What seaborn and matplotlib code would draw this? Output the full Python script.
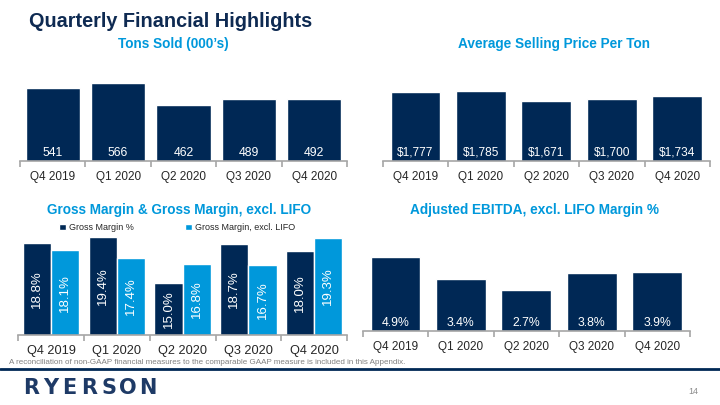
import numpy as np
import pandas as pd
import matplotlib
matplotlib.use("Agg")
import matplotlib.pyplot as plt
import seaborn as sns

# ---------------- data ----------------
quarters = ["Q4 2019", "Q1 2020", "Q2 2020", "Q3 2020", "Q4 2020"]
tons_sold = [541, 566, 462, 489, 492]
avg_price = [1777, 1785, 1671, 1700, 1734]
gross_margin = [18.8, 19.4, 15.0, 18.7, 18.0]
gross_margin_ex_lifo = [18.1, 17.4, 16.8, 16.7, 19.3]
ebitda_margin = [4.9, 3.4, 2.7, 3.8, 3.9]
series_names = ["Gross Margin %", "Gross Margin, excl. LIFO"]

NAVY = "#002855"
BLUE = "#0098DB"
TITLE_NAVY = "#0E2A52"
GRID_GREY = "#A6A6A6"
TXT = "#262626"

sns.set_theme(style="white")
plt.rcParams["font.family"] = ["Liberation Sans", "DejaVu Sans"]

W, H = 720, 405
fig = plt.figure(figsize=(7.2, 4.05), dpi=100)
fig.patch.set_facecolor("white")


def px_axes(x0, x1, y_base, y_top):
    return fig.add_axes([x0 / W, (H - y_base) / H, (x1 - x0) / W, (y_base - y_top) / H])


def style_axis(ax, ylim, tick_fs, pad):
    ax.set_ylim(*ylim)
    ax.set_xlim(-0.5, len(quarters) - 0.5)
    for s in ["top", "right", "left"]:
        ax.spines[s].set_visible(False)
    ax.spines["bottom"].set_color(GRID_GREY)
    ax.spines["bottom"].set_linewidth(1.2)
    ax.set_yticks([])
    ax.set_xticks(range(len(quarters)))
    ax.set_xticklabels(quarters)
    ax.set_xticks(np.arange(-0.5, len(quarters), 1.0), minor=True)
    ax.tick_params(axis="x", which="major", length=0, pad=pad, labelsize=tick_fs, labelcolor=TXT)
    ax.tick_params(axis="x", which="minor", length=4.5, width=1.2, color=GRID_GREY,
                   direction="out", bottom=True)
    ax.set_xlabel("")
    ax.set_ylabel("")
    ax.set_facecolor("white")


def bottom_labels(ax, labels, fs, offset):
    y0 = ax.get_ylim()[0]
    for bar, lab in zip(ax.containers[0], labels):
        ax.annotate(lab, (bar.get_x() + bar.get_width() / 2, y0), xytext=(0, offset),
                    textcoords="offset points", ha="center", va="center",
                    color="white", fontsize=fs)


# ---------------- Tons sold ----------------
ax1 = px_axes(20, 347, 161, 60)
sns.barplot(x=quarters, y=tons_sold, color=NAVY, saturation=1, width=0.83, ax=ax1)
style_axis(ax1, (200, 200 + 101 / 0.213), 8.5, 7)
bottom_labels(ax1, [f"{v}" for v in tons_sold], 8.8, 5.8)

# ---------------- Avg selling price ----------------
ax2 = px_axes(382.7, 710, 161, 60)
sns.barplot(x=quarters, y=avg_price, color=NAVY, saturation=1, width=0.76, ax=ax2)
style_axis(ax2, (1000, 1000 + 101 / 0.0888), 8.5, 7)
bottom_labels(ax2, [f"${v:,}" for v in avg_price], 8.6, 5.8)

# ---------------- Gross margin ----------------
gm_df = pd.DataFrame({
    "quarter": quarters * 2,
    "value": gross_margin + gross_margin_ex_lifo,
    "series": [series_names[0]] * 5 + [series_names[1]] * 5,
})
ax3 = px_axes(18.3, 347, 335, 235)
sns.barplot(data=gm_df, x="quarter", y="value", hue="series", palette=[NAVY, BLUE],
            saturation=1, width=0.86, gap=0, ax=ax3)
style_axis(ax3, (10, 10 + 100 / 10.45), 9.2, 7.5)
for cont in ax3.containers:
    ax3.bar_label(cont, labels=[f"{b.get_height():.1f}%" for b in cont], label_type="center",
                  rotation=90, color="white", fontsize=9.5)
leg = ax3.legend(loc="lower left", bbox_to_anchor=(59 / W, 1 - 232 / H),
                 bbox_transform=fig.transFigure, ncol=2, frameon=False, fontsize=6.5,
                 handlelength=0.75, handleheight=0.75, handletextpad=0.4, columnspacing=5.6,
                 borderpad=0, borderaxespad=0)
for t in leg.get_texts():
    t.set_color(TXT)

# ---------------- Adjusted EBITDA ----------------
ax4 = px_axes(362.7, 690, 330.7, 235)
sns.barplot(x=quarters, y=ebitda_margin, color=NAVY, saturation=1, width=0.76, ax=ax4)
style_axis(ax4, (0, 95.7 / 15.1), 8.5, 7.5)
bottom_labels(ax4, [f"{v:.1f}%" for v in ebitda_margin], 8.8, 5.3)

# ---------------- titles & texts ----------------
fig.text(29 / W, 1 - 27.3 / H, "Quarterly Financial Highlights", fontsize=14.3,
         fontweight="bold", color=TITLE_NAVY, ha="left", va="baseline")
sub_kw = dict(fontsize=9.8, fontweight="bold", color=BLUE, ha="center", va="baseline")
fig.text(173.5 / W, 1 - 47.7 / H, "Tons Sold (000’s)", **sub_kw)
fig.text(553.5 / W, 1 - 47.7 / H, "Average Selling Price Per Ton", **sub_kw)
fig.text(179 / W, 1 - 214.3 / H, "Gross Margin & Gross Margin, excl. LIFO", **sub_kw)
fig.text(534.5 / W, 1 - 214.3 / H, "Adjusted EBITDA, excl. LIFO Margin %", **sub_kw)

fig.text(9 / W, 1 - 364.5 / H,
         "A reconciliation of non-GAAP financial measures to the comparable GAAP measure is included in this Appendix.",
         fontsize=5.75, color="#808080", ha="left", va="baseline")

fig.add_artist(plt.Line2D([0, 1], [1 - 368.5 / H, 1 - 368.5 / H], transform=fig.transFigure,
                          color=NAVY, linewidth=2.0))

logo = "RYERSON"
x_start, x_end = 21.0, 157.5
step = (x_end - x_start) / len(logo)
for i, ch in enumerate(logo):
    fig.text((x_start + step * (i + 0.5)) / W, 1 - 393.5 / H, ch, fontsize=15,
             fontweight="bold", color="#1E3A66", ha="center", va="baseline",
             family="DejaVu Sans")

fig.text(693 / W, 1 - 392 / H, "14", fontsize=6.5, color="#8C8C8C", ha="center", va="center")

fig.savefig("out.png", dpi=100, facecolor="white")
